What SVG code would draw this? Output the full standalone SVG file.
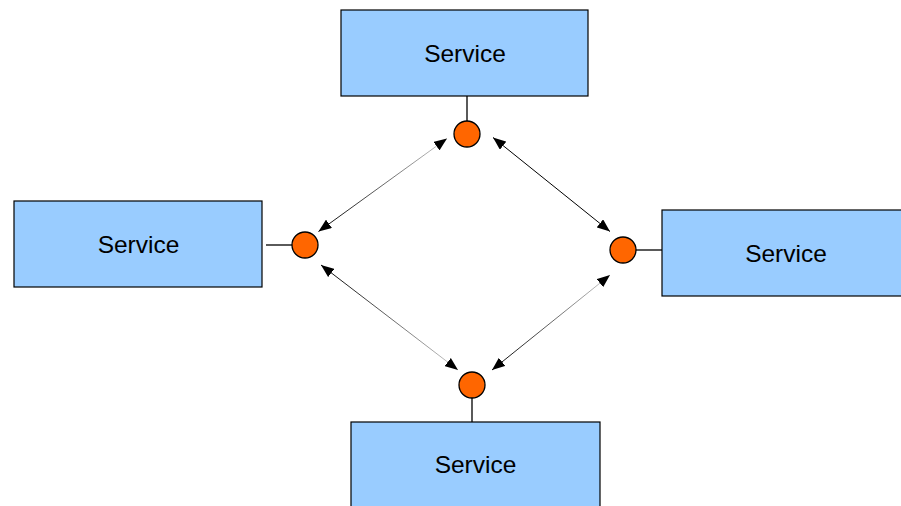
<svg xmlns="http://www.w3.org/2000/svg" width="901" height="506" viewBox="0 0 901 506">
<style>
.box{fill:#99CCFF;stroke:#000;stroke-width:1.2}
.port{fill:#FF6600;stroke:#000;stroke-width:1.3}
.stub{stroke:#000;stroke-width:1.3}
.lbl{font-family:"Liberation Sans",Arial,sans-serif;font-size:24.5px;fill:#000;text-anchor:middle}
.conn{fill:none;stroke-width:1;marker-start:url(#ah);marker-end:url(#ah)}
</style>
<defs>
<marker id="ah" viewBox="0 0 10 8" refX="10" refY="4" markerWidth="13" markerHeight="10.4" markerUnits="userSpaceOnUse" orient="auto-start-reverse">
<path d="M0,0 L10,4 L0,8 Z" fill="#000"/>
</marker>
<linearGradient id="g1" gradientUnits="userSpaceOnUse" x1="447" y1="138" x2="318" y2="232"><stop offset="0" stop-color="#ccc"/><stop offset="1" stop-color="#000"/></linearGradient>
<linearGradient id="g2" gradientUnits="userSpaceOnUse" x1="321" y1="265" x2="458" y2="370"><stop offset="0" stop-color="#000"/><stop offset="1" stop-color="#ccc"/></linearGradient>
<linearGradient id="g3" gradientUnits="userSpaceOnUse" x1="610" y1="275" x2="492" y2="370"><stop offset="0" stop-color="#ccc"/><stop offset="1" stop-color="#000"/></linearGradient>
</defs>
<g id="connectors">
<line class="conn" x1="493" y1="137.5" x2="610" y2="231.5" stroke="#000"/>
<line class="conn" x1="447" y1="138.5" x2="318.5" y2="231.5" stroke="url(#g1)"/>
<line class="conn" x1="321" y1="265" x2="458" y2="370" stroke="url(#g2)"/>
<line class="conn" x1="610" y1="275" x2="492" y2="370" stroke="url(#g3)" stroke-width="1.5"/>
</g>
<g id="service-top">
<rect class="box" x="341" y="10" width="247" height="86"/>
<text class="lbl" x="465" y="62">Service</text>
<line class="stub" x1="467" y1="96" x2="467" y2="121"/>
<circle class="port" cx="467" cy="134" r="13"/>
</g>
<g id="service-left">
<rect class="box" x="14" y="201" width="248" height="86"/>
<text class="lbl" x="138.5" y="253">Service</text>
<line class="stub" x1="266" y1="245" x2="292" y2="245"/>
<circle class="port" cx="305" cy="245" r="13"/>
</g>
<g id="service-right">
<rect class="box" x="662" y="210" width="245" height="86"/>
<text class="lbl" x="786" y="262">Service</text>
<line class="stub" x1="636" y1="250" x2="662" y2="250"/>
<circle class="port" cx="623" cy="250" r="13"/>
</g>
<g id="service-bottom">
<rect class="box" x="351" y="422" width="249" height="90"/>
<text class="lbl" x="475.5" y="473">Service</text>
<line class="stub" x1="472" y1="398" x2="472" y2="422"/>
<circle class="port" cx="472" cy="385" r="13"/>
</g>
</svg>
